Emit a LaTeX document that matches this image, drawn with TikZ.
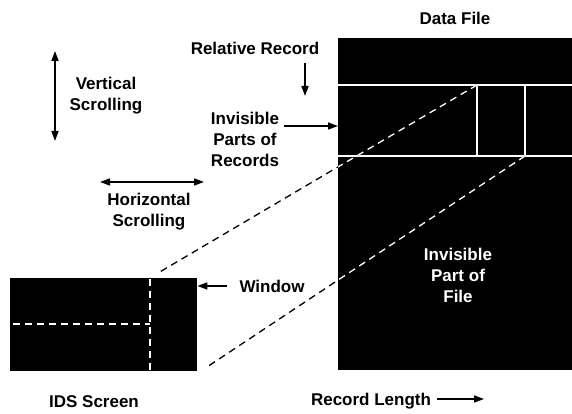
\documentclass[tikz,border=0pt]{standalone}
\usepackage{fontspec}
\setmainfont{Liberation Sans}
\usetikzlibrary{arrows.meta}

\tikzset{
  lbl/.style={font=\bfseries\fontsize{17}{21}\selectfont, align=center, inner sep=0pt},
  arr/.style={line width=1.6pt, -{Triangle[length=10pt,width=7pt]}},
  darr/.style={line width=1.6pt, {Triangle[length=10pt,width=7pt]}-{Triangle[length=10pt,width=7pt]}},
  cut/.style={dash pattern=on 7pt off 5pt, line width=1.3pt},
  wline/.style={white, line width=1.6pt},
}

\begin{document}
\begin{tikzpicture}[x=1pt,y=-1pt]
    \useasboundingbox (0,0) rectangle (572,414);

    \node (file) [fill=black, minimum width=234pt, minimum height=332pt, inner sep=0pt, anchor=north west] at (338,38) {};
    \node (screen) [fill=black, minimum width=187pt, minimum height=93pt, inner sep=0pt, anchor=north west] at (10,278) {};

    % record band
    \draw [wline] (338,85) -- (572,85);
    \draw [wline] (338,156) -- (572,156);
    \draw [wline] (477,85) -- (477,156);
    \draw [wline] (525,85) -- (525,156);

    % window in screen
    \draw [cut, white] (150,279) -- (150,370);
    \draw [cut, white] (13,324) -- (150,324);

    \coordinate (wa) at (477,85);
    \coordinate (wb) at (525,156);
    \coordinate (sa) at (158,273);
    \coordinate (sb) at (207,367);
    \draw [cut] (wa) -- (sa);
    \draw [cut] (wb) -- (sb);
    \begin{scope}
        \clip (file.north west) rectangle (file.south east);
        \draw [cut, white] (wa) -- (sa);
        \draw [cut, white] (wb) -- (sb);
    \end{scope}

    \node (title) [lbl] at (455,18) {Data File};
    \node (relrec) [lbl] at (255,48) {Relative Record};
    \node (vscroll) [lbl] at (106,96) {Vertical\\Scrolling};
    \node (parts) [lbl] at (245,139) {Invisible\\Parts of\\Records};
    \node (hscroll) [lbl] at (149,212) {Horizontal\\Scrolling};
    \node (window) [lbl] at (272,286) {Window};
    \node (filepart) [lbl, text=white] at (458,275) {Invisible\\Part of\\File};
    \node (ids) [lbl] at (94,402) {IDS Screen};
    \node (reclen) [lbl] at (371,401) {Record Length};

    \coordinate (rr0) at (305,63);
    \coordinate (rr1) at (305,96);
    \coordinate (v0) at (55,51);
    \coordinate (v1) at (55,141);
    \coordinate (h0) at (100,182);
    \coordinate (h1) at (204,182);
    \coordinate (pp) at (338,126);
    \coordinate (rl) at (484,399);

    \draw [arr] (rr0) -- (rr1);
    \draw [darr] (v0) -- (v1);
    \draw [darr] (h0) -- (h1);
    \draw [arr] ([xshift=5pt]parts.east |- pp) -- (pp);
    \draw [arr] ([xshift=-12pt]window.west) -- (screen.east |- window);
    \draw [arr] ([xshift=6pt]reclen.east |- rl) -- (rl);
\end{tikzpicture}
\end{document}
